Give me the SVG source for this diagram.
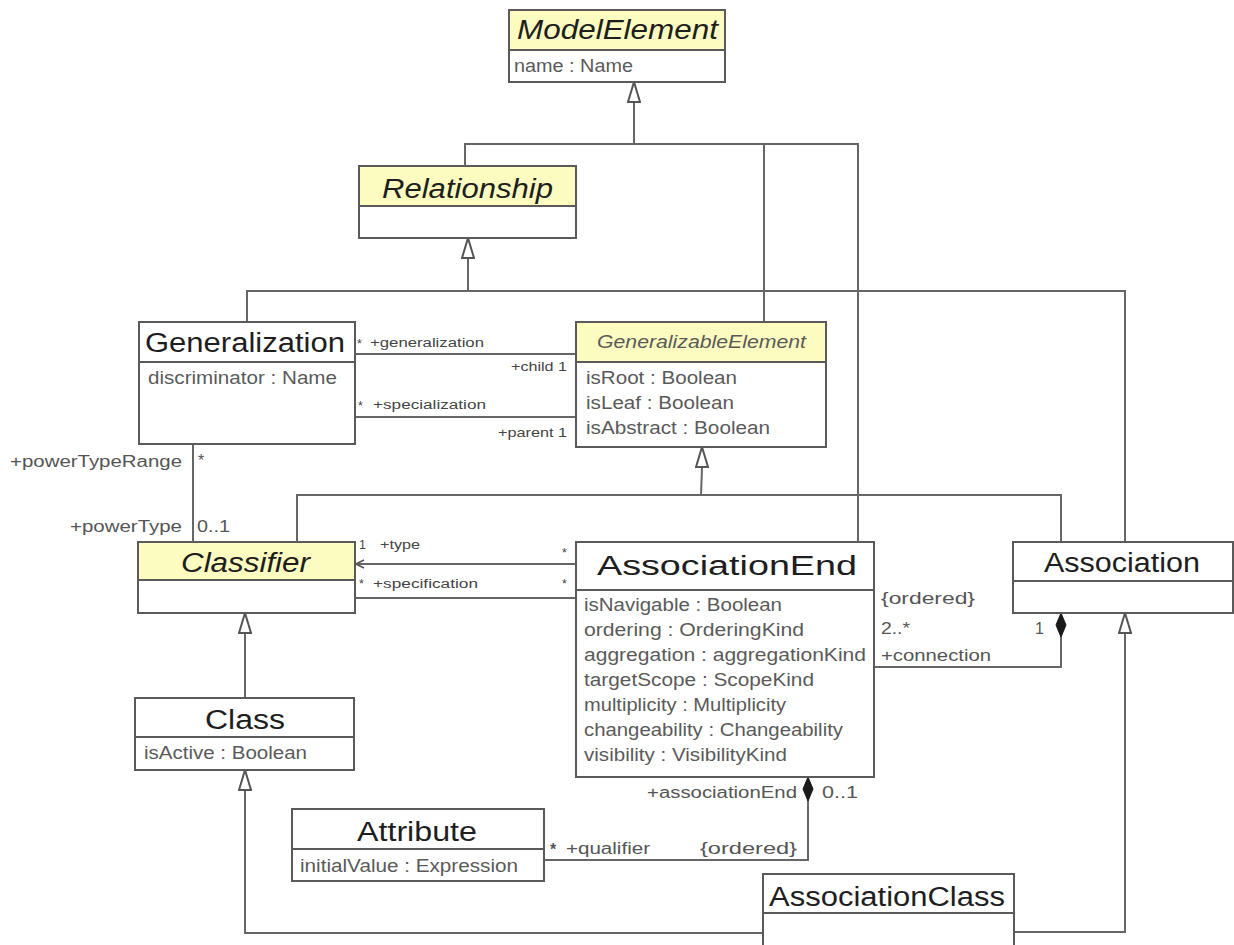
<svg xmlns="http://www.w3.org/2000/svg" width="1234" height="945" viewBox="0 0 1234 945">
  <style>
    .box { fill: #ffffff; stroke: #5a5a5a; stroke-width: 2; }
    .hdr { fill: #fcfcc0; stroke: #5a5a5a; stroke-width: 2; }
    .sep { stroke: #5a5a5a; stroke-width: 2; }
    .name { font-family: "Liberation Sans", Arial, sans-serif; font-size: 27px; fill: #1e1e1e; }
    .abs { font-style: italic; }
    .attr { font-family: "Liberation Sans", Arial, sans-serif; font-size: 17.5px; fill: #5a5a5a; }
    .lbl { font-family: "Liberation Sans", Arial, sans-serif; font-size: 16px; fill: #555555; }
    .sm { font-family: "Liberation Sans", Arial, sans-serif; font-size: 12.5px; fill: #444444; }
    .conn path { fill: none; stroke: #666666; stroke-width: 2; }
  </style>
  <defs>
    <!-- hollow generalization triangle -->
    <marker id="gen" viewBox="0 0 22 14" refX="21" refY="7" markerWidth="22" markerHeight="14" markerUnits="userSpaceOnUse" orient="auto">
      <path d="M1,1 L21,7 L1,13 Z" fill="#ffffff" stroke="#555555" stroke-width="2"/>
    </marker>
    <!-- filled composition diamond -->
    <marker id="comp" viewBox="0 0 26 12" refX="25" refY="6" markerWidth="26" markerHeight="12" markerUnits="userSpaceOnUse" orient="auto">
      <path d="M1,6 L13,1 L25,6 L13,11 Z" fill="#1a1a1a" stroke="#1a1a1a" stroke-width="1"/>
    </marker>
    <!-- open navigability arrow -->
    <marker id="nav" viewBox="0 0 10 10" refX="9" refY="5" markerWidth="10" markerHeight="10" markerUnits="userSpaceOnUse" orient="auto">
      <path d="M1,1 L9,5 L1,9" fill="none" stroke="#555555" stroke-width="1.6"/>
    </marker>
  </defs>

  <rect width="1234" height="945" fill="#ffffff"/>

  <g id="connectors" class="conn">
    <!-- ModelElement specializations -->
    <path d="M465,166 V144 H858 V542"/>
    <path d="M764,144 V322"/>
    <path d="M634,144 V82" marker-end="url(#gen)"/>
    <!-- Relationship specializations -->
    <path d="M247,322 V291 H1125 V542"/>
    <path d="M468,291 V238" marker-end="url(#gen)"/>
    <!-- GeneralizableElement specializations -->
    <path d="M297,542 V495 H1061 V542"/>
    <path d="M701,495 L702,468 V447" marker-end="url(#gen)"/>
    <!-- Class -> Classifier -->
    <path d="M245,698 V613" marker-end="url(#gen)"/>
    <!-- AssociationClass -> Class / Association -->
    <path d="M763,933 H245 V770" marker-end="url(#gen)"/>
    <path d="M1014,932 H1125 V613" marker-end="url(#gen)"/>
    <!-- Generalization child / parent -->
    <path d="M355,354 H576"/>
    <path d="M355,417 H576"/>
    <!-- powertype -->
    <path d="M193,444 V542"/>
    <!-- type / specification -->
    <path d="M576,564 H356" marker-end="url(#nav)"/>
    <path d="M355,598 H576"/>
    <!-- connection composition -->
    <path d="M874,667 H1061 V613" marker-end="url(#comp)"/>
    <!-- qualifier composition -->
    <path d="M544,860 H808 V777" marker-end="url(#comp)"/>
  </g>

  <g id="labels">
    <text class="sm" x="357" y="348">*</text>
    <text class="sm" x="370" y="347" textLength="114" lengthAdjust="spacingAndGlyphs">+generalization</text>
    <text class="sm" x="511" y="371" textLength="56" lengthAdjust="spacingAndGlyphs">+child 1</text>
    <text class="sm" x="358" y="410">*</text>
    <text class="sm" x="373" y="409" textLength="113" lengthAdjust="spacingAndGlyphs">+specialization</text>
    <text class="sm" x="498" y="437" textLength="69" lengthAdjust="spacingAndGlyphs">+parent 1</text>

    <text class="lbl" x="10" y="467" textLength="172" lengthAdjust="spacingAndGlyphs">+powerTypeRange</text>
    <text class="lbl" x="198" y="466">*</text>
    <text class="lbl" x="70" y="532" textLength="112" lengthAdjust="spacingAndGlyphs">+powerType</text>
    <text class="lbl" x="197" y="532" textLength="33" lengthAdjust="spacingAndGlyphs">0..1</text>

    <text class="sm" x="359" y="549">1</text>
    <text class="sm" x="380" y="549" textLength="40" lengthAdjust="spacingAndGlyphs">+type</text>
    <text class="sm" x="562" y="557">*</text>
    <text class="sm" x="359" y="588">*</text>
    <text class="sm" x="373" y="588" textLength="105" lengthAdjust="spacingAndGlyphs">+specification</text>
    <text class="sm" x="562" y="588">*</text>

    <text class="lbl" x="881" y="604" textLength="94" lengthAdjust="spacingAndGlyphs">{ordered}</text>
    <text class="lbl" x="881" y="634" textLength="29" lengthAdjust="spacingAndGlyphs">2..*</text>
    <text class="lbl" x="881" y="661" textLength="110" lengthAdjust="spacingAndGlyphs">+connection</text>
    <text class="lbl" x="1035" y="634">1</text>

    <text class="lbl" x="647" y="798" textLength="150" lengthAdjust="spacingAndGlyphs">+associationEnd</text>
    <text class="lbl" x="822" y="798" textLength="36" lengthAdjust="spacingAndGlyphs">0..1</text>
    <text class="lbl" x="550" y="855" font-weight="bold">*</text>
    <text class="lbl" x="566" y="854" textLength="84" lengthAdjust="spacingAndGlyphs">+qualifier</text>
    <text class="lbl" x="700" y="854" textLength="97" lengthAdjust="spacingAndGlyphs">{ordered}</text>
  </g>

  <g id="ModelElement">
    <rect class="box" x="509" y="10" width="216" height="72"/>
    <rect class="hdr" x="509" y="10" width="216" height="40"/>
    <text class="name abs" x="517" y="39" textLength="201" lengthAdjust="spacingAndGlyphs" font-size="25">ModelElement</text>
    <text class="attr" x="514" y="72" textLength="119" lengthAdjust="spacingAndGlyphs" font-size="15">name : Name</text>
  </g>

  <g id="Relationship">
    <rect class="box" x="359" y="166" width="217" height="72"/>
    <rect class="hdr" x="359" y="166" width="217" height="40"/>
    <text class="name abs" x="382" y="198" textLength="171" lengthAdjust="spacingAndGlyphs" font-size="25">Relationship</text>
  </g>

  <g id="Generalization">
    <rect class="box" x="139" y="322" width="216" height="122"/>
    <line class="sep" x1="139" y1="362" x2="355" y2="362"/>
    <text class="name" x="145" y="352" textLength="200" lengthAdjust="spacingAndGlyphs">Generalization</text>
    <text class="attr" x="148" y="384" textLength="189" lengthAdjust="spacingAndGlyphs">discriminator : Name</text>
  </g>

  <g id="GeneralizableElement">
    <rect class="box" x="576" y="322" width="250" height="125"/>
    <rect class="hdr" x="576" y="322" width="250" height="40"/>
    <text class="attr abs" x="597" y="348" textLength="209" lengthAdjust="spacingAndGlyphs">GeneralizableElement</text>
    <text class="attr" x="586" y="384" textLength="151" lengthAdjust="spacingAndGlyphs">isRoot : Boolean</text>
    <text class="attr" x="586" y="409" textLength="148" lengthAdjust="spacingAndGlyphs">isLeaf : Boolean</text>
    <text class="attr" x="586" y="434" textLength="184" lengthAdjust="spacingAndGlyphs">isAbstract : Boolean</text>
  </g>

  <g id="Classifier">
    <rect class="box" x="138" y="542" width="217" height="71"/>
    <rect class="hdr" x="138" y="542" width="217" height="38"/>
    <text class="name abs" x="181" y="572" textLength="129" lengthAdjust="spacingAndGlyphs">Classifier</text>
  </g>

  <g id="Class">
    <rect class="box" x="135" y="698" width="219" height="72"/>
    <line class="sep" x1="135" y1="737" x2="354" y2="737"/>
    <text class="name" x="205" y="729" textLength="80" lengthAdjust="spacingAndGlyphs">Class</text>
    <text class="attr" x="144" y="759" textLength="163" lengthAdjust="spacingAndGlyphs">isActive : Boolean</text>
  </g>

  <g id="AssociationEnd">
    <rect class="box" x="576" y="542" width="298" height="235"/>
    <line class="sep" x1="576" y1="590" x2="874" y2="590"/>
    <text class="name" x="597" y="575" textLength="260" lengthAdjust="spacingAndGlyphs">AssociationEnd</text>
    <text class="attr" x="584" y="611" textLength="198" lengthAdjust="spacingAndGlyphs">isNavigable : Boolean</text>
    <text class="attr" x="584" y="636" textLength="220" lengthAdjust="spacingAndGlyphs">ordering : OrderingKind</text>
    <text class="attr" x="584" y="661" textLength="282" lengthAdjust="spacingAndGlyphs">aggregation : aggregationKind</text>
    <text class="attr" x="584" y="686" textLength="230" lengthAdjust="spacingAndGlyphs">targetScope : ScopeKind</text>
    <text class="attr" x="584" y="711" textLength="202" lengthAdjust="spacingAndGlyphs">multiplicity : Multiplicity</text>
    <text class="attr" x="584" y="736" textLength="259" lengthAdjust="spacingAndGlyphs">changeability : Changeability</text>
    <text class="attr" x="584" y="761" textLength="203" lengthAdjust="spacingAndGlyphs">visibility : VisibilityKind</text>
  </g>

  <g id="Association">
    <rect class="box" x="1013" y="542" width="220" height="71"/>
    <line class="sep" x1="1013" y1="581" x2="1233" y2="581"/>
    <text class="name" x="1044" y="572" textLength="156" lengthAdjust="spacingAndGlyphs">Association</text>
  </g>

  <g id="Attribute">
    <rect class="box" x="292" y="809" width="252" height="72"/>
    <line class="sep" x1="292" y1="849" x2="544" y2="849"/>
    <text class="name" x="357" y="841" textLength="120" lengthAdjust="spacingAndGlyphs" font-size="25">Attribute</text>
    <text class="attr" x="300" y="872" textLength="218" lengthAdjust="spacingAndGlyphs">initialValue : Expression</text>
  </g>

  <g id="AssociationClass">
    <rect class="box" x="763" y="874" width="251" height="80"/>
    <line class="sep" x1="763" y1="913" x2="1014" y2="913"/>
    <text class="name" x="769" y="906" textLength="236" lengthAdjust="spacingAndGlyphs">AssociationClass</text>
  </g>
</svg>
